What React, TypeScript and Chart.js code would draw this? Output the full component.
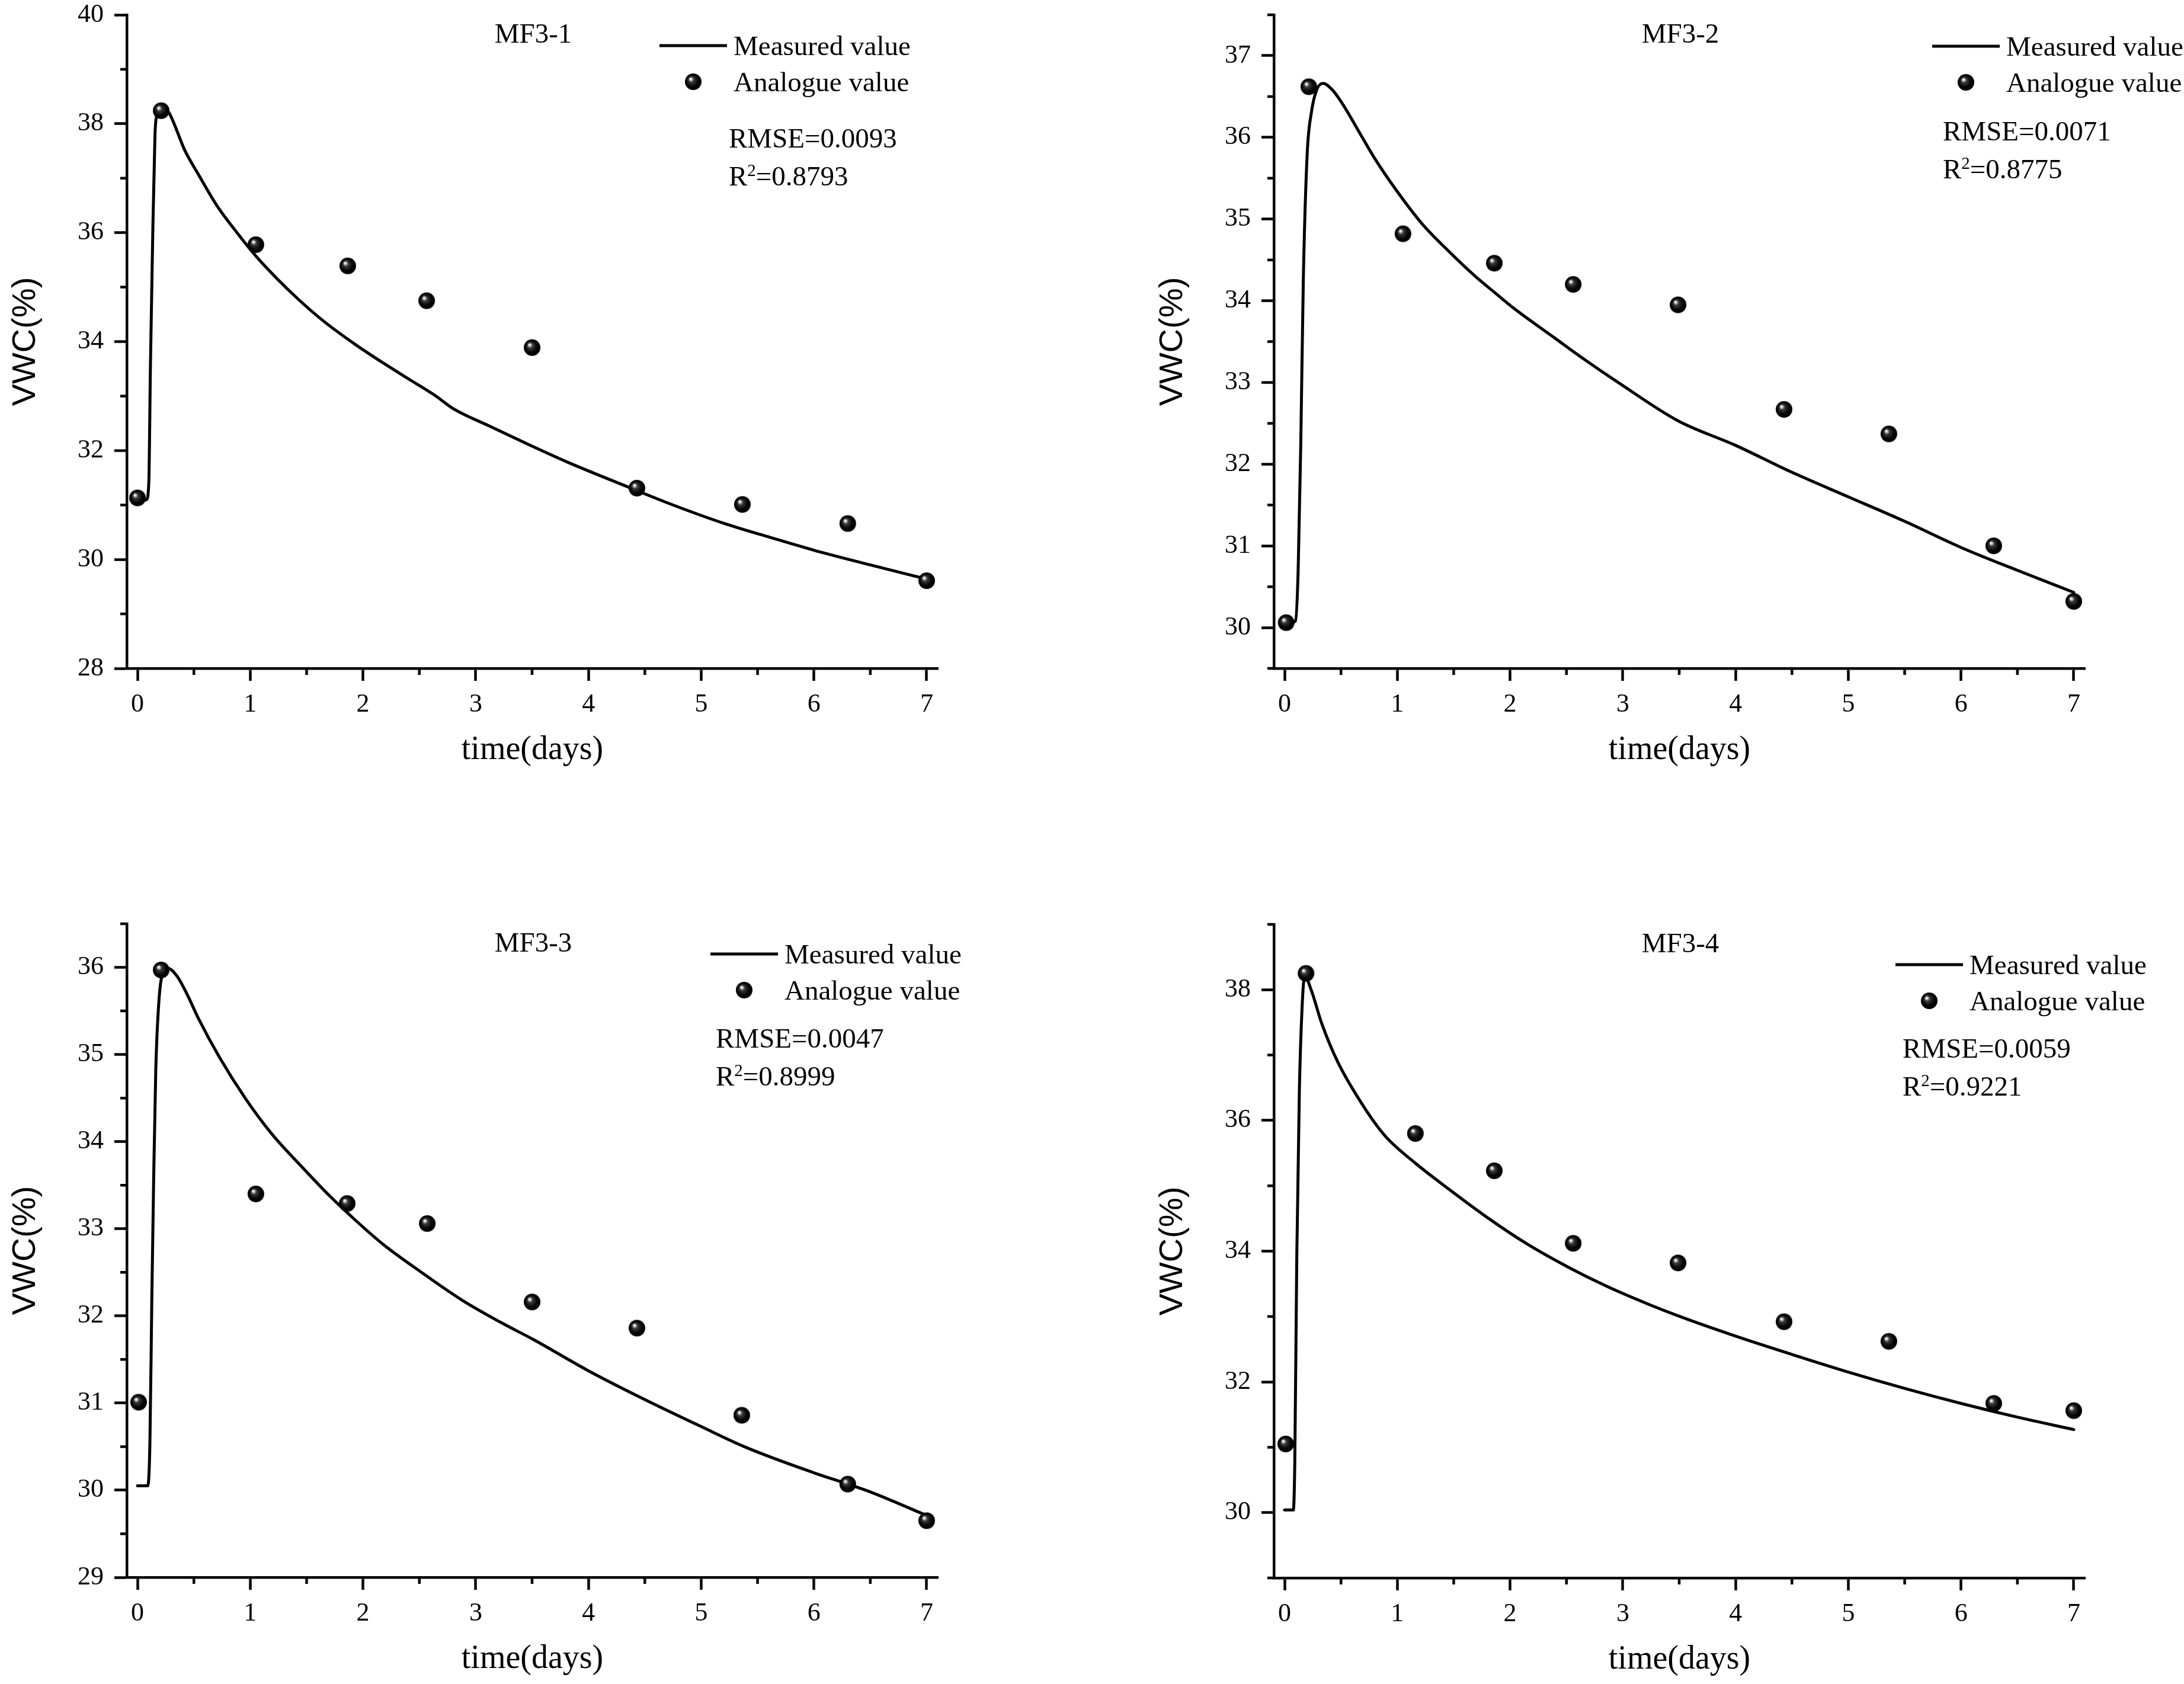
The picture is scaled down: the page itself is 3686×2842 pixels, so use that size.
import { useEffect, useRef } from 'react';
import { Chart, registerables } from 'chart.js';

Chart.register(...registerables);

// shared time axis (days)
const dayTicks = [0, 1, 2, 3, 4, 5, 6, 7];

// MF3-1
const mf31LineDays = [0, 0.08, 0.1, 0.115, 0.134, 0.155, 0.175, 0.21, 0.28, 0.42, 0.54, 0.7, 0.89, 1.05, 1.24, 1.43, 1.66, 1.93, 2.17, 2.4, 2.64, 2.8, 3.11, 3.5, 3.81, 4.28, 4.75, 5.22, 5.62, 6.0, 6.5, 7.0];
const mf31Measured = [31.06, 31.1, 31.4, 33.6, 35.84, 37.8, 38.18, 38.34, 38.2, 37.51, 37.07, 36.51, 35.98, 35.57, 35.15, 34.77, 34.36, 33.95, 33.62, 33.32, 33.01, 32.77, 32.46, 32.08, 31.79, 31.39, 31.0, 30.65, 30.4, 30.17, 29.9, 29.64];
const mf31PointDays = [0, 0.21, 1.05, 1.865, 2.565, 3.5, 4.43, 5.365, 6.3, 7.0];
const mf31Analogue = [31.13, 38.24, 35.78, 35.39, 34.75, 33.89, 31.31, 31.01, 30.66, 29.61];
const mf31YTicks = [28, 30, 32, 34, 36, 38, 40];

// MF3-2
const mf32LineDays = [0, 0.096, 0.12, 0.143, 0.166, 0.2, 0.237, 0.284, 0.342, 0.424, 0.518, 0.68, 0.8, 0.987, 1.22, 1.46, 1.69, 1.855, 2.04, 2.39, 2.63, 2.98, 3.49, 4.0, 4.5, 5.0, 5.5, 6.0, 6.5, 7.0];
const mf32Measured = [30.04, 30.08, 30.69, 32.22, 34.26, 35.79, 36.3, 36.58, 36.66, 36.58, 36.4, 36.02, 35.74, 35.36, 34.94, 34.6, 34.3, 34.11, 33.9, 33.55, 33.31, 32.98, 32.53, 32.23, 31.9, 31.6, 31.3, 30.98, 30.7, 30.43];
const mf32PointDays = [0.014, 0.215, 1.05, 1.86, 2.56, 3.49, 4.43, 5.36, 6.29, 7.0];
const mf32Analogue = [30.06, 36.62, 34.82, 34.46, 34.2, 33.95, 32.67, 32.37, 31.0, 30.32];
const mf32YTicks = [30, 31, 32, 33, 34, 35, 36, 37];

// MF3-3
const mf33LineDays = [0, 0.09, 0.11, 0.127, 0.144, 0.162, 0.186, 0.22, 0.268, 0.35, 0.444, 0.538, 0.726, 0.96, 1.19, 1.48, 1.71, 1.94, 2.18, 2.53, 2.88, 3.23, 3.51, 4.0, 4.5, 5.0, 5.4, 6.0, 6.3, 6.5, 7.0];
const mf33Measured = [30.05, 30.05, 30.54, 32.2, 33.63, 34.82, 35.54, 35.92, 35.99, 35.9, 35.68, 35.42, 34.97, 34.49, 34.09, 33.68, 33.37, 33.09, 32.82, 32.49, 32.18, 31.92, 31.73, 31.37, 31.04, 30.73, 30.49, 30.2, 30.07, 29.98, 29.71];
const mf33PointDays = [0.01, 0.21, 1.05, 1.86, 2.57, 3.5, 4.43, 5.36, 6.3, 7.0];
const mf33Analogue = [31.01, 35.97, 33.4, 33.29, 33.06, 32.16, 31.86, 30.86, 30.07, 29.65];
const mf33YTicks = [29, 30, 31, 32, 33, 34, 35, 36];

// MF3-4
const mf34LineDays = [0, 0.077, 0.09, 0.108, 0.131, 0.155, 0.178, 0.237, 0.33, 0.47, 0.706, 0.893, 1.15, 1.456, 1.81, 2.16, 2.51, 2.86, 3.21, 3.49, 4.0, 4.5, 5.0, 5.5, 6.0, 6.5, 7.0];
const mf34Measured = [30.04, 30.04, 30.73, 33.91, 36.46, 37.73, 38.21, 37.99, 37.48, 36.9, 36.2, 35.76, 35.36, 34.95, 34.5, 34.1, 33.76, 33.46, 33.2, 33.01, 32.7, 32.42, 32.15, 31.9, 31.67, 31.46, 31.27];
const mf34PointDays = [0.01, 0.19, 1.16, 1.86, 2.56, 3.49, 4.43, 5.36, 6.29, 7.0];
const mf34Analogue = [31.05, 38.25, 35.8, 35.23, 34.12, 33.82, 32.92, 32.62, 31.67, 31.56];
const mf34YTicks = [30, 32, 34, 36, 38];

const CANVAS_W = 1843;
const CANVAS_H = 1421;
const AREA_W = 1369;
const AREA_H = 1103;
const Y_W = 200;
const X_H = 150;
const SERIF = '"Liberation Serif", "Times New Roman", serif';

interface PanelCfg {
  title: string;
  lineDays: number[];
  measured: number[];
  pointDays: number[];
  analogue: number[];
  yTicks: number[];
  yMin: number;
  yMax: number;
  minorStep: number;
  rmse: string;
  r2: string;
  left: number;
  top: number;
  areaLeft: number;
  areaTop: number;
  legend: [number, number];
  stats: [number, number];
}

const panels: PanelCfg[] = [
  {
    title: 'MF3-1', lineDays: mf31LineDays, measured: mf31Measured, pointDays: mf31PointDays, analogue: mf31Analogue,
    yTicks: mf31YTicks, yMin: 28, yMax: 40, minorStep: 1, rmse: '0.0093', r2: '0.8793',
    left: 0, top: 0, areaLeft: 214, areaTop: 25, legend: [899, 52], stats: [1016, 224],
  },
  {
    title: 'MF3-2', lineDays: mf32LineDays, measured: mf32Measured, pointDays: mf32PointDays, analogue: mf32Analogue,
    yTicks: mf32YTicks, yMin: 29.5, yMax: 37.5, minorStep: 0.5, rmse: '0.0071', r2: '0.8775',
    left: 1843, top: 0, areaLeft: 307, areaTop: 25, legend: [1111, 53], stats: [1129, 212],
  },
  {
    title: 'MF3-3', lineDays: mf33LineDays, measured: mf33Measured, pointDays: mf33PointDays, analogue: mf33Analogue,
    yTicks: mf33YTicks, yMin: 29, yMax: 36.5, minorStep: 0.5, rmse: '0.0047', r2: '0.8999',
    left: 0, top: 1421, areaLeft: 214, areaTop: 138, legend: [985, 51], stats: [994, 209],
  },
  {
    title: 'MF3-4', lineDays: mf34LineDays, measured: mf34Measured, pointDays: mf34PointDays, analogue: mf34Analogue,
    yTicks: mf34YTicks, yMin: 29, yMax: 39, minorStep: 1, rmse: '0.0059', r2: '0.9221',
    left: 1843, top: 1421, areaLeft: 307, areaTop: 139, legend: [1049, 68], stats: [1061, 225],
  },
];

function makeSphere(r: number) {
  const c = document.createElement('canvas');
  const size = Math.ceil(r * 2 + 2);
  c.width = size;
  c.height = size;
  const g = c.getContext('2d')!;
  const cx = size / 2;
  const cy = size / 2;
  const grad = g.createRadialGradient(cx - r * 0.35, cy - r * 0.38, 0, cx, cy, r);
  grad.addColorStop(0, '#ffffff');
  grad.addColorStop(0.12, '#dcdcdc');
  grad.addColorStop(0.32, '#3a3a3a');
  grad.addColorStop(0.7, '#050505');
  grad.addColorStop(1, '#000000');
  g.fillStyle = grad;
  g.beginPath();
  g.arc(cx, cy, r, 0, Math.PI * 2);
  g.fill();
  return c;
}

function minorValues(min: number, max: number, step: number, majors: number[]) {
  const out: number[] = [];
  for (let v = min; v <= max + 1e-6; v += step) {
    const r = Math.round(v * 1000) / 1000;
    if (!majors.some((m) => Math.abs(m - r) < 1e-6)) out.push(r);
  }
  return out;
}

function decorPlugin(p: PanelCfg, sphere: HTMLCanvasElement) {
  const xMinor = minorValues(0, 7, 0.5, dayTicks);
  const yMinor = minorValues(p.yMin, p.yMax, p.minorStep, p.yTicks);
  return {
    id: 'decor' + p.title,
    afterDraw(chart: any) {
      const { ctx, chartArea: a, scales } = chart;
      ctx.save();
      // minor ticks
      ctx.strokeStyle = '#000';
      ctx.lineWidth = 4.5;
      ctx.beginPath();
      xMinor.forEach((v) => {
        const px = scales.x.getPixelForValue(v);
        ctx.moveTo(px, a.bottom);
        ctx.lineTo(px, a.bottom + 11);
      });
      yMinor.forEach((v) => {
        const py = scales.y.getPixelForValue(v);
        ctx.moveTo(a.left, py);
        ctx.lineTo(a.left - 11, py);
      });
      ctx.stroke();

      ctx.fillStyle = '#000';
      ctx.font = `47px ${SERIF}`;
      ctx.textBaseline = 'alphabetic';
      ctx.textAlign = 'center';
      ctx.fillText(p.title, a.left + 686, a.top + 47);

      // legend
      const [lx, ly] = p.legend;
      ctx.lineWidth = 5;
      ctx.beginPath();
      ctx.moveTo(a.left + lx, a.top + ly);
      ctx.lineTo(a.left + lx + 114, a.top + ly);
      ctx.stroke();
      ctx.textAlign = 'left';
      ctx.fillText('Measured value', a.left + lx + 125, a.top + ly + 16);
      ctx.drawImage(sphere, a.left + lx + 57 - sphere.width / 2, a.top + ly + 61 - sphere.height / 2);
      ctx.fillText('Analogue value', a.left + lx + 125, a.top + ly + 77);

      // fit statistics
      const [sx, sy] = p.stats;
      ctx.fillText('RMSE=' + p.rmse, a.left + sx, a.top + sy);
      ctx.fillText('R', a.left + sx, a.top + sy + 64);
      const rw = ctx.measureText('R').width;
      ctx.font = `29px ${SERIF}`;
      ctx.fillText('2', a.left + sx + rw, a.top + sy + 64 - 16);
      const tw = ctx.measureText('2').width;
      ctx.font = `47px ${SERIF}`;
      ctx.fillText('=' + p.r2, a.left + sx + rw + tw, a.top + sy + 64);

      // axis titles
      ctx.textAlign = 'center';
      ctx.textBaseline = 'middle';
      ctx.font = `56px ${SERIF}`;
      ctx.fillText('time(days)', (a.left + a.right) / 2, a.bottom + 138);
      ctx.translate(a.left - 170, (a.top + a.bottom) / 2);
      ctx.rotate(-Math.PI / 2);
      ctx.font = '56px "Liberation Sans", Arial, sans-serif';
      ctx.fillText('VWC(%)', 0, 0);
      ctx.restore();
    },
  };
}

function Panel({ panel }: { panel: PanelCfg }) {
  const canvasRef = useRef<HTMLCanvasElement>(null);

  useEffect(() => {
    if (!canvasRef.current) return;
    const sphere = makeSphere(14);
    const tickFont = { family: SERIF, size: 44 };
    const chart = new Chart(canvasRef.current, {
      type: 'scatter',
      data: {
        datasets: [
          {
            label: 'Analogue value',
            data: panel.pointDays.map((d, i) => ({ x: d, y: panel.analogue[i] })),
            pointStyle: sphere,
            pointRadius: 14,
            showLine: false,
            clip: false,
            order: 0,
          } as any,
          {
            label: 'Measured value',
            data: panel.lineDays.map((d, i) => ({ x: d, y: panel.measured[i] })),
            showLine: true,
            borderColor: '#000',
            borderWidth: 5,
            pointRadius: 0,
            cubicInterpolationMode: 'monotone',
            borderJoinStyle: 'round',
            borderCapStyle: 'round',
            fill: false,
            order: 1,
          } as any,
        ],
      },
      options: {
        responsive: false,
        animation: false,
        devicePixelRatio: 1,
        events: [],
        layout: {
          padding: {
            left: panel.areaLeft - Y_W,
            top: panel.areaTop,
            right: CANVAS_W - panel.areaLeft - AREA_W,
            bottom: CANVAS_H - panel.areaTop - AREA_H - X_H,
          },
        },
        plugins: {
          legend: { display: false },
          tooltip: { enabled: false },
        },
        scales: {
          x: {
            type: 'linear',
            min: -0.095,
            max: 7.1,
            afterFit: (s: any) => {
              s.height = X_H;
              s.paddingLeft = 0;
              s.paddingRight = 0;
            },
            afterBuildTicks: (s: any) => { s.ticks = dayTicks.map((v) => ({ value: v })); },
            grid: { display: true, drawOnChartArea: false, drawTicks: true, tickLength: 21, tickWidth: 4.5, tickColor: '#000' },
            border: { display: true, color: '#000', width: 4.5 },
            ticks: { color: '#000', font: tickFont, padding: 14, autoSkip: false, maxRotation: 0 },
          },
          y: {
            type: 'linear',
            min: panel.yMin,
            max: panel.yMax,
            afterFit: (s: any) => {
              s.width = Y_W;
              s.paddingTop = 0;
              s.paddingBottom = 0;
            },
            afterBuildTicks: (s: any) => { s.ticks = panel.yTicks.map((v) => ({ value: v })); },
            grid: { display: true, drawOnChartArea: false, drawTicks: true, tickLength: 21, tickWidth: 4.5, tickColor: '#000' },
            border: { display: true, color: '#000', width: 4.5 },
            ticks: { color: '#000', font: tickFont, padding: 18, autoSkip: false },
          },
        },
      } as any,
      plugins: [decorPlugin(panel, sphere)],
    });
    return () => chart.destroy();
  }, [panel]);

  return (
    <canvas
      ref={canvasRef}
      width={CANVAS_W}
      height={CANVAS_H}
      style={{ position: 'absolute', left: panel.left, top: panel.top, width: CANVAS_W, height: CANVAS_H }}
    />
  );
}

export default function App() {
  return (
    <div style={{ position: 'fixed', left: 0, top: 0, width: 3686, height: 2842, background: '#fff', overflow: 'hidden' }}>
      {panels.map((p) => (
        <Panel key={p.title} panel={p} />
      ))}
    </div>
  );
}
